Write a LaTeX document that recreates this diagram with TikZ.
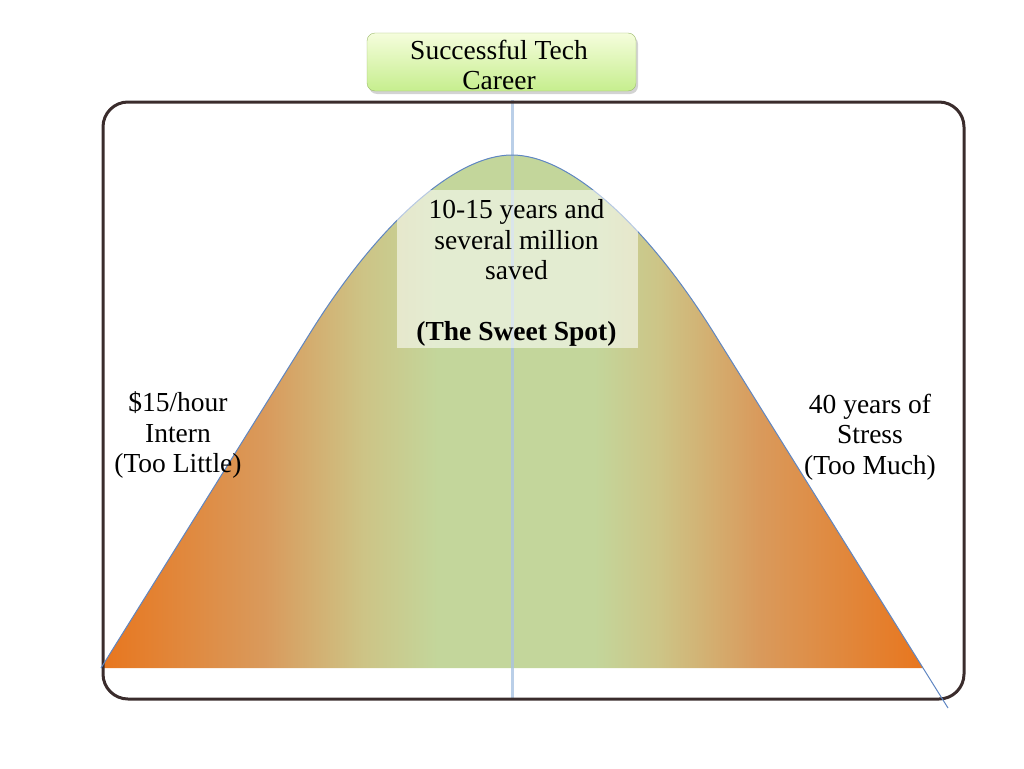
\documentclass[tikz,border=0pt]{standalone}
\usepackage{fontspec}
\setmainfont{Liberation Serif}
\usepackage{xcolor}
\usetikzlibrary{shadows,positioning}
\definecolor{CurveOrange}{HTML}{E8761E}
\definecolor{CurveTan}{HTML}{D99A5C}
\definecolor{CurveOlive}{HTML}{CDC486}
\definecolor{CurveSage}{HTML}{C3D69B}
\definecolor{FrameBrown}{HTML}{3A2C2C}
\definecolor{AxisBlue}{HTML}{A9C3E2}
\definecolor{EdgeBlue}{HTML}{5F86C2}
\definecolor{TitleTop}{HTML}{F5FDDC}
\definecolor{TitleBottom}{HTML}{C6EE8E}
\definecolor{TitleEdge}{HTML}{9DBB6E}

\pgfdeclarehorizontalshading{careershade}{100bp}{color(0bp)=(CurveOrange); color(25bp)=(CurveOrange); color(35bp)=(CurveTan); color(41bp)=(CurveOlive); color(45.5bp)=(CurveSage); color(55bp)=(CurveSage); color(59bp)=(CurveOlive); color(65bp)=(CurveTan); color(75bp)=(CurveOrange); color(100bp)=(CurveOrange)}

\begin{document}
\begin{tikzpicture}[
  x=1pt, y=-1pt,
  txt/.style={align=center, font=\fontsize{27.5}{30.5}\selectfont, inner sep=0pt},
  titlebox/.style={txt, draw=TitleEdge, rounded corners=8pt, top color=TitleTop,
    bottom color=TitleBottom, minimum width=269pt, minimum height=58pt,
    drop shadow={shadow xshift=2pt, shadow yshift=-3pt, opacity=.35}},
  glass/.style={txt, fill=white, fill opacity=.55, text opacity=1,
    minimum width=241pt, minimum height=158pt}
]
\useasboundingbox (0,0) rectangle (1024,768);

% bell curve
\shade[shading=careershade] (101,668) -- (312,330)
  .. controls (380,222) and (456,155) .. (512,155)
  .. controls (568,155) and (644,222) .. (712,330) -- (923,668) -- cycle;

\coordinate (axtop) at (512,100);
\coordinate (axbot) at (512,699);
\draw[AxisBlue, line width=3pt, opacity=.8] (axtop) -- (axbot);

\draw[FrameBrown, line width=3pt, rounded corners=25pt] (103,102) rectangle (964,699);

\draw[EdgeBlue, line width=1pt] (101,668) -- (312,330)
  .. controls (380,222) and (456,155) .. (512,155)
  .. controls (568,155) and (644,222) .. (712,330) -- (948,708);

\node[glass] (sweet) at (517,269) {};
\node[txt] (sweettext) at (516.5,273) {10-15 years and\\several million\\saved\\[30.5pt]\textbf{(The Sweet Spot)}};

\node[txt] (low) at (178,435) {\$15/hour\\Intern\\(Too Little)};
\node[txt] (high) at (870,437) {40 years of\\Stress\\(Too Much)};

\node[titlebox] (career) at (501.5,62) {};
\node[txt] (careertext) at (499,65) {Successful Tech\\Career};
\end{tikzpicture}
\end{document}
